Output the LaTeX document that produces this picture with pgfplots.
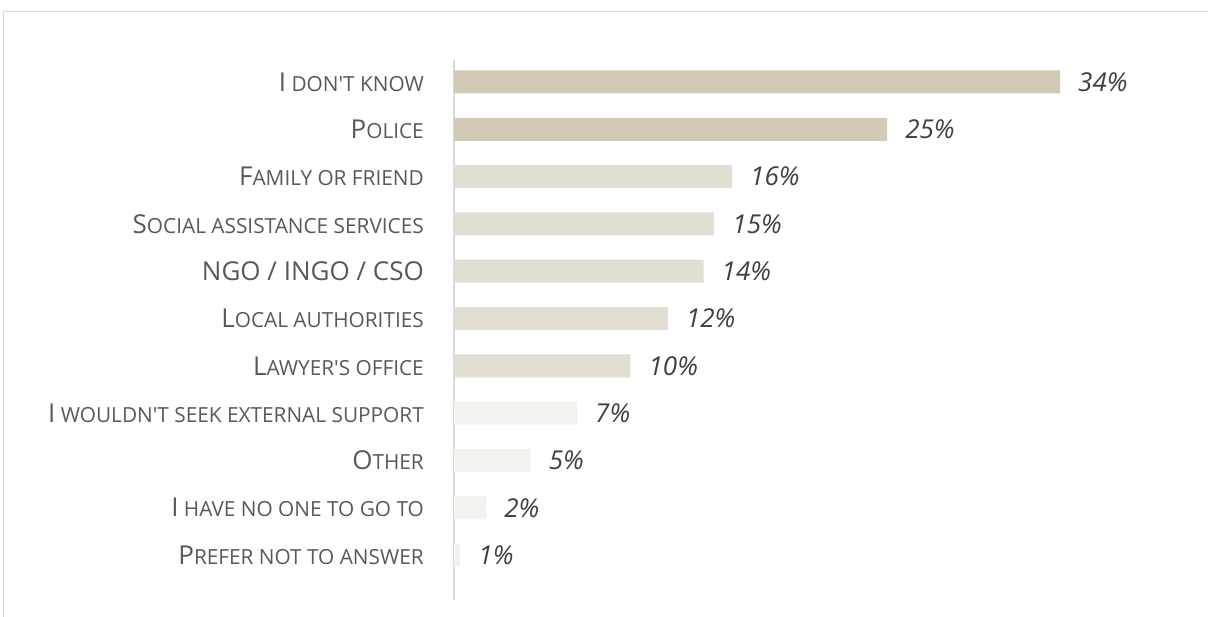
\documentclass[border=0pt]{standalone}
\usepackage{pgfplots}
\pgfplotsset{compat=1.18}
\usepackage{fontspec}
\setmainfont{Open Sans}
\definecolor{barA}{HTML}{D3CAB6}
\definecolor{barB}{HTML}{E3DED3}
\definecolor{barC}{HTML}{F4F2EF}
\definecolor{lbl}{HTML}{595959}
\definecolor{val}{HTML}{404040}
\definecolor{frame}{HTML}{D9D9D9}
\newcommand{\fsc}[2]{{\fontsize{26}{30}\selectfont #1}{\fontsize{20.8}{30}\selectfont #2}}
\newcommand{\ap}{\textquotesingle}
\begin{document}
\begin{tikzpicture}[x=1pt,y=1pt]
\useasboundingbox (0,0) rectangle (1208,617);
\fill[white] (0,0) rectangle (1208,617);
\draw[frame, line width=1pt] (3.5,-20) -- (3.5,605) -- (1230,605);
\begin{axis}[
  at={(454pt,17pt)}, anchor=south west,
  scale only axis, width=606pt, height=540pt,
  xmin=0, xmax=34, ymin=-0.465, ymax=10.95,
  y dir=reverse,
  clip=false,
  xbar, bar width=23pt, bar shift=0pt,
  axis x line=none,
  axis y line*=left,
  y axis line style={frame, line width=2pt, -},
  major tick length=0pt,
  ytick={0,...,10},
  yticklabels={
    \fsc{I}{ DON\ap T KNOW},
    \fsc{P}{OLICE},
    \fsc{F}{AMILY OR FRIEND},
    \fsc{S}{OCIAL ASSISTANCE SERVICES},
    \fsc{NGO / INGO / CSO}{},
    \fsc{L}{OCAL AUTHORITIES},
    \fsc{L}{AWYER\ap S OFFICE},
    \fsc{I}{ WOULDN\ap T SEEK EXTERNAL SUPPORT},
    \fsc{O}{THER},
    \fsc{I}{ HAVE NO ONE TO GO TO},
    \fsc{P}{REFER NOT TO ANSWER}},
  yticklabel style={text=lbl, inner sep=0pt, anchor=east, xshift=-30pt},
  point meta=explicit symbolic,
  nodes near coords,
  nodes near coords style={anchor=west, inner sep=0pt, xshift=18pt, text=val, font=\fontsize{26}{30}\selectfont\itshape},
]
\addplot[draw=none, fill=barA] coordinates {(34.0,0) [34\%] (24.3,1) [25\%]};
\addplot[draw=none, fill=barB] coordinates {(15.6,2) [16\%] (14.6,3) [15\%] (14.0,4) [14\%] (12.0,5) [12\%] (9.9,6) [10\%]};
\addplot[draw=none, fill=barC] coordinates {(6.9,7) [7\%] (4.3,8) [5\%] (1.8,9) [2\%] (0.35,10) [1\%]};
\end{axis}
\end{tikzpicture}
\end{document}
